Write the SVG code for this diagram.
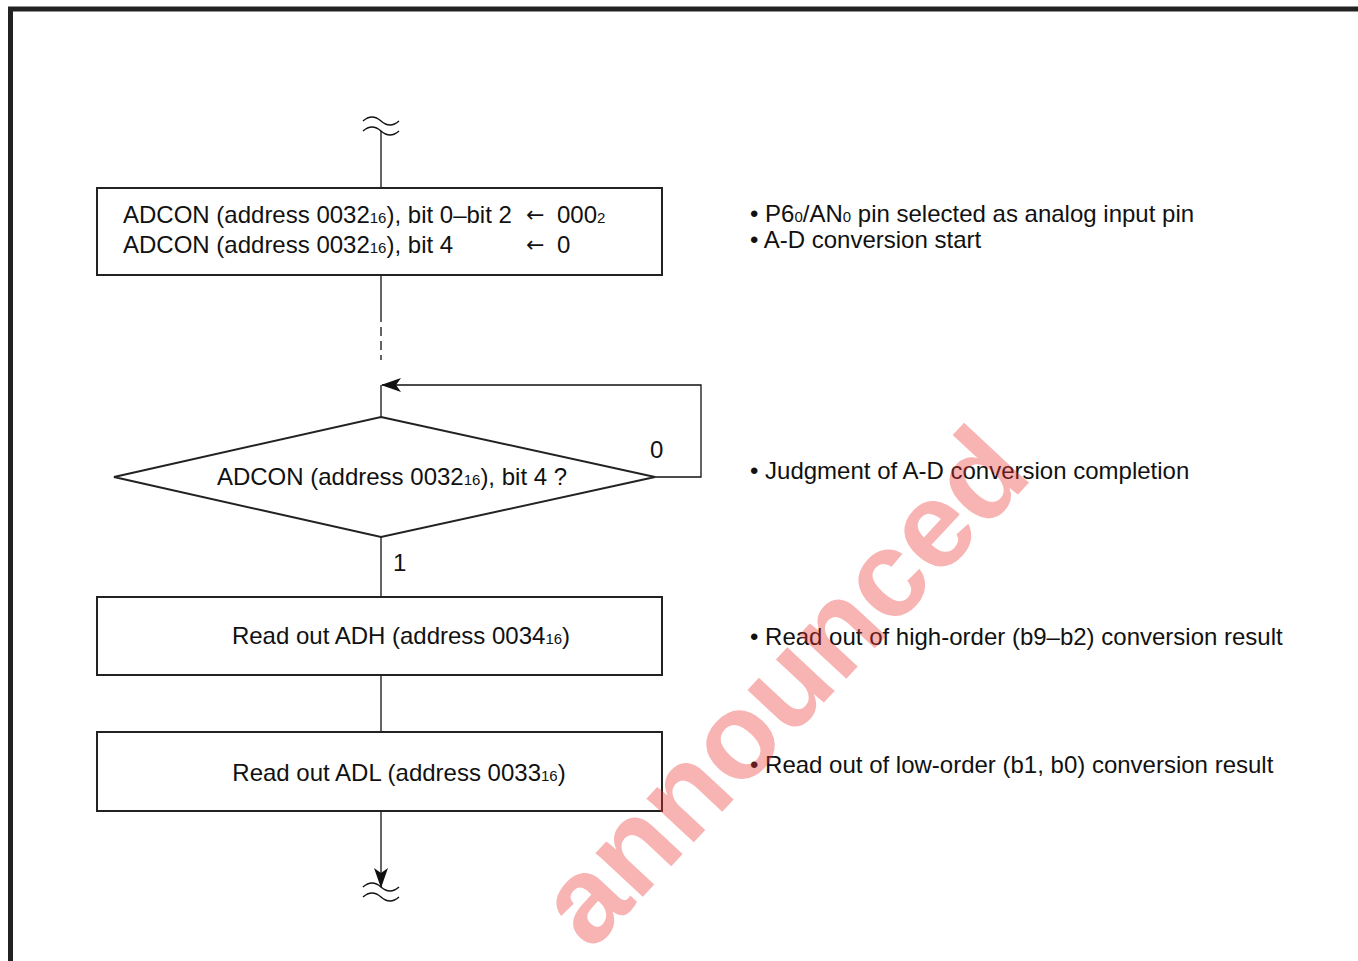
<svg xmlns="http://www.w3.org/2000/svg" width="1358" height="961" viewBox="0 0 1358 961">
<defs>
<style>
.t{font-family:"Liberation Sans",Arial,sans-serif;font-size:24px;fill:#111}
.s{font-size:15px}
.ar{font-family:"DejaVu Sans",sans-serif;font-size:22px;fill:#111}
.box{fill:none;stroke:#222;stroke-width:2}
.ln{fill:none;stroke:#111;stroke-width:1.3}
.wv{fill:none;stroke:#111;stroke-width:1.5}
.wm{font-family:"Liberation Sans",Arial,sans-serif;font-weight:bold;font-size:122px;fill:#ee3333;opacity:0.37}
</style>
<marker id="ah" viewBox="0 0 20 14" refX="19" refY="7" markerWidth="20" markerHeight="14" markerUnits="userSpaceOnUse" orient="auto">
<path d="M0,0 L20,7 L0,14 L5,7 Z" fill="#111"/>
</marker>
</defs>
<rect x="0" y="0" width="1358" height="961" fill="#fff"/>
<path d="M10.5,961 V9 H1358" fill="none" stroke="#222" stroke-width="5"/>

<g id="connectors">
<path class="wv" d="M363,121 q9,-8 18,0 t18,0"/>
<path class="wv" d="M363,131 q9,-8 18,0 t18,0"/>
<path class="ln" d="M381,131 V188"/>
<path class="ln" d="M381,275 V313"/>
<path class="ln" d="M381,313 V360" stroke-dasharray="9,5"/>
<path class="ln" d="M381,385 V417"/>
<path class="ln" d="M655,477 H701 V385 H382" marker-end="url(#ah)"/>
<path class="ln" d="M381,537 V597"/>
<path class="ln" d="M381,675 V732"/>
<path class="ln" d="M381,811 V887" marker-end="url(#ah)"/>
<path class="wv" d="M363,887 q9,-8 18,0 t18,0"/>
<path class="wv" d="M363,897 q9,-8 18,0 t18,0"/>
<text class="t" x="650" y="458">0</text>
<text class="t" x="393" y="571">1</text>
</g>

<g id="start">
<rect class="box" x="97" y="188" width="565" height="87"/>
<text class="t" x="123" y="223">ADCON (address 0032<tspan class="s">16</tspan>), bit 0–bit 2</text>
<text class="ar" x="526" y="222">←</text>
<text class="t" x="557" y="223">000<tspan class="s">2</tspan></text>
<text class="t" x="123" y="253">ADCON (address 0032<tspan class="s">16</tspan>), bit 4</text>
<text class="ar" x="526" y="252">←</text>
<text class="t" x="557" y="253">0</text>
</g>

<g id="decision">
<path class="box" d="M381,417 L655,477 L381,537 L114,477 Z"/>
<text class="t" x="392" y="485" text-anchor="middle">ADCON (address 0032<tspan class="s">16</tspan>), bit 4 ?</text>
</g>

<g id="readADH">
<rect class="box" x="97" y="597" width="565" height="78"/>
<text class="t" x="401" y="644" text-anchor="middle">Read out ADH (address 0034<tspan class="s">16</tspan>)</text>
</g>

<g id="readADL">
<rect class="box" x="97" y="732" width="565" height="79"/>
<text class="t" x="399" y="781" text-anchor="middle">Read out ADL (address 0033<tspan class="s">16</tspan>)</text>
</g>

<g id="notes">
<text class="t" x="750" y="222">• P6<tspan class="s">0</tspan>/AN<tspan class="s">0</tspan> pin selected as analog input pin</text>
<text class="t" x="750" y="248">• A-D conversion start</text>
<text class="t" x="750" y="479">• Judgment of A-D conversion completion</text>
<text class="t" x="750" y="645">• Read out of high-order (b9–b2) conversion result</text>
<text class="t" x="750" y="773">• Read out of low-order (b1, b0) conversion result</text>
</g>

<text class="wm" x="0" y="0" text-anchor="middle" dominant-baseline="central" transform="translate(782,686) rotate(-47)">announced</text>
</svg>
